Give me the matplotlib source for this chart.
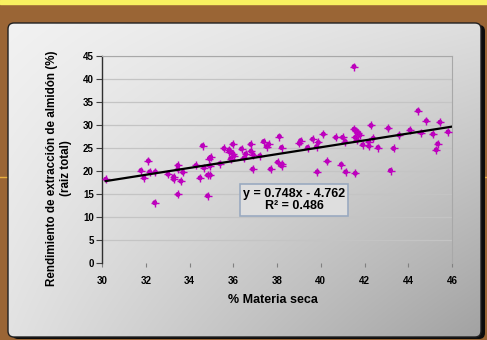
import numpy as np
import matplotlib
matplotlib.use("Agg")
import matplotlib.pyplot as plt
from matplotlib.patches import FancyBboxPatch, Rectangle

plt.rcParams['font.family'] = ['Liberation Sans', 'DejaVu Sans']

# % dry matter vs. starch extraction yield (whole root)
materia_seca = [30.17, 31.78, 31.92, 32.12, 32.18, 32.41, 32.44, 33.02, 33.28, 33.28,
                33.47, 33.47, 33.47, 33.61, 33.70, 34.30, 34.48, 34.60, 34.66, 34.83,
                34.83, 34.95, 34.91, 34.97, 34.94, 35.39, 35.58, 35.82, 35.88, 35.98,
                35.98, 36.03, 36.38, 36.49, 36.57, 36.80, 36.81, 36.89, 36.92, 37.22,
                37.39, 37.53, 37.62, 37.71, 38.11, 38.21, 38.03, 38.24, 38.21, 39.08,
                39.02, 39.63, 39.40, 39.89, 39.81, 40.12, 40.30, 39.84, 40.69, 41.00,
                40.94, 41.14, 41.12, 41.52, 41.61, 41.72, 41.79, 41.58, 41.67, 41.92,
                41.58, 42.19, 42.21, 42.30, 42.40, 42.62, 43.09, 43.33, 43.19, 43.59,
                44.08, 44.45, 44.60, 44.83, 45.13, 45.35, 45.28, 45.45, 45.82, 41.52,
                35.82]
rendimiento = [18.2, 20.1, 18.5, 22.2, 19.8, 13.1, 19.8, 19.3, 18.7, 18.2,
               21.2, 20.4, 14.9, 17.8, 19.7, 21.2, 18.5, 25.5, 20.7, 14.6,
               19.1, 19.1, 22.7, 23.0, 21.1, 21.6, 24.9, 24.6, 22.7, 25.8,
               23.8, 23.3, 24.8, 22.8, 23.7, 25.8, 24.3, 20.4, 23.5, 23.3,
               26.4, 25.3, 25.8, 20.4, 27.5, 25.1, 21.9, 21.5, 21.1, 26.6,
               26.0, 26.9, 25.1, 26.2, 25.3, 28.0, 22.1, 19.8, 27.3, 27.3,
               21.4, 19.8, 26.4, 29.1, 28.8, 28.3, 27.8, 27.3, 26.7, 25.7,
               19.5, 26.4, 25.4, 29.9, 27.1, 25.1, 29.3, 24.9, 20.1, 27.8,
               28.9, 33.1, 28.3, 30.9, 28.0, 25.9, 24.6, 30.6, 28.5, 42.7,
               24.2]

# linear trend reported on the chart
pendiente = 0.748
intercepto = -4.762
r2 = 0.486

x_ticks = [30, 32, 34, 36, 38, 40, 42, 44, 46]
y_ticks = [0, 5, 10, 15, 20, 25, 30, 35, 40, 45]

W, H = 487, 340
fig = plt.figure(figsize=(W / 100, H / 100), dpi=100)
fig.patch.set_facecolor('#9a6535')

# background layer in pixel coordinates
bg = fig.add_axes([0, 0, 1, 1])
bg.set_xlim(0, W)
bg.set_ylim(H, 0)
bg.axis('off')
bg.add_patch(Rectangle((0, 0), W, 3.5, color='#f8f060', zorder=1))
bg.plot([0, W], [177, 177], color='#e8b040', lw=1, zorder=1)

# panel with drop shadow
bx0, by0, bx1, by1 = 8, 23, 481, 337
shadow = FancyBboxPatch((bx0 + 4, by0 + 2), bx1 - bx0, by1 - by0,
                        boxstyle='round,pad=0,rounding_size=6',
                        facecolor='#0c0c0c', edgecolor='none', zorder=2)
bg.add_patch(shadow)
panel = FancyBboxPatch((bx0, by0), bx1 - bx0, by1 - by0,
                       boxstyle='round,pad=0,rounding_size=6',
                       facecolor='none', edgecolor='#202020', lw=1.0, zorder=4)
bg.add_patch(panel)
# bilinear grey gradient: light top-left, darker bottom-right
tl, tr, bl, br = 242, 222, 226, 162
u = np.linspace(0, 1, 200)[None, :]
v = np.linspace(0, 1, 200)[:, None]
g = (tl * (1 - u) * (1 - v) + tr * u * (1 - v) + bl * (1 - u) * v + br * u * v) / 255.0
img = bg.imshow(np.dstack([g, g, g]), extent=(bx0, bx1, by1, by0),
                aspect='auto', zorder=3, interpolation='bilinear')
img.set_clip_path(FancyBboxPatch((bx0, by0), bx1 - bx0, by1 - by0,
                                 boxstyle='round,pad=0,rounding_size=6',
                                 transform=bg.transData))
bg.set_xlim(0, W)
bg.set_ylim(H, 0)

# main chart
ax = fig.add_axes([102 / W, 1 - 263 / H, 350 / W, 207 / H])
ax.patch.set_alpha(0)
ax.set_xlim(30, 46)
ax.set_ylim(0, 45)
ax.set_xticks(x_ticks)
ax.set_yticks(y_ticks)
ax.set_xticklabels([str(t) for t in x_ticks], fontsize=7, fontweight='bold')
ax.set_yticklabels([str(t) for t in y_ticks], fontsize=7, fontweight='bold')
ax.tick_params(axis='y', length=4, width=0.8, color='#404040', pad=2)
ax.tick_params(axis='x', length=3, width=0.8, color='#808080', pad=6)
for t in y_ticks[1:]:
    ax.axhline(t, color='#c4c4c4', lw=0.9, zorder=1)
ax.spines['left'].set_color('#303030')
ax.spines['left'].set_linewidth(1.0)
ax.spines['bottom'].set_visible(False)
ax.spines['top'].set_color('#a8a8a8')
ax.spines['right'].set_color('#a8a8a8')

ax.scatter(materia_seca, rendimiento, s=13, marker='o', color='#b400b4',
           edgecolors='none', zorder=3)
ax.scatter(materia_seca, rendimiento, s=28, marker='+', color='#c000c0',
           linewidths=1.0, zorder=3)

xl = np.array([min(materia_seca), 46])
ax.plot(xl, pendiente * xl + intercepto, color='black', lw=1.6, zorder=4)

ax.text(38.78, 13.7, f"y = {pendiente}x - {abs(intercepto)}\nR² = {r2}",
        ha='center', va='center', fontsize=9, fontweight='bold',
        multialignment='center', zorder=5, linespacing=1.1,
        bbox=dict(boxstyle='square,pad=0.25', facecolor='#dedede',
                  edgecolor='#9aaac0', lw=1.2))

fig.text(273 / W, 1 - 300 / H, '% Materia seca', ha='center', va='center',
         fontsize=9, fontweight='bold')
fig.text(59 / W, 1 - 168 / H,
         'Rendimiento de extracción de almidón (%)\n(raiz total)',
         rotation=90, ha='center', va='center', multialignment='center',
         fontsize=8.4, fontweight='bold', linespacing=1.15)

fig.savefig('out.png', dpi=100, facecolor=fig.get_facecolor())
